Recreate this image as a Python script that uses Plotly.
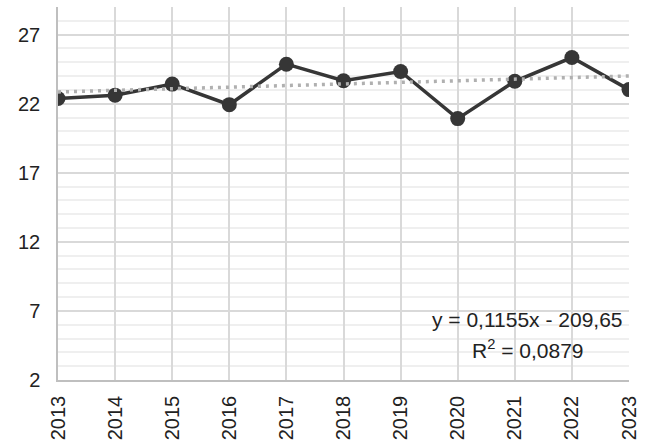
import plotly.graph_objects as go

# Annual values
years = [2013, 2014, 2015, 2016, 2017, 2018, 2019, 2020, 2021, 2022, 2023]
values = [22.38, 22.62, 23.42, 21.93, 24.86, 23.66, 24.33, 20.92, 23.62, 25.34, 23.02]

# Linear trend: y = slope * x + intercept
slope = 0.1155
intercept = -209.65
r_squared = 0.0879

y_ticks = [2, 7, 12, 17, 22, 27]

trend_x = [years[0], years[-1]]
trend_y = [slope * x + intercept for x in trend_x]


def fmt(v, nd):
    return f"{v:.{nd}f}".replace(".", ",")


eq_text = f"y = {fmt(slope, 4)}x - {fmt(-intercept, 2)}"
r2_text = f"R<sup>2</sup> = {fmt(r_squared, 4)}"

fig = go.Figure()

fig.add_trace(go.Scatter(
    x=years, y=values, mode="lines+markers",
    line=dict(color="#363636", width=3.5),
    marker=dict(color="#363636", size=15),
    showlegend=False,
))

fig.add_trace(go.Scatter(
    x=trend_x, y=trend_y, mode="lines",
    line=dict(color="#b0b0b0", width=3.5, dash="3px,5px"),
    showlegend=False,
))

fig.add_annotation(
    x=0.823, y=0.161, xref="paper", yref="paper",
    text=eq_text, showarrow=False,
    font=dict(family="Liberation Sans", size=21, color="#222222"),
    xanchor="center", yanchor="middle",
)
fig.add_annotation(
    x=0.823, y=0.084, xref="paper", yref="paper",
    text=r2_text, showarrow=False,
    font=dict(family="Liberation Sans", size=21, color="#222222"),
    xanchor="center", yanchor="middle",
)

fig.update_layout(
    width=651, height=448,
    margin=dict(l=58, r=22, t=7, b=68),
    paper_bgcolor="white", plot_bgcolor="white",
    font=dict(family="Liberation Sans", size=20, color="#222222"),
)

fig.update_xaxes(
    range=[years[0], years[-1]],
    tickmode="array", tickvals=years, ticktext=[str(y) for y in years],
    tickangle=-90,
    showgrid=True, gridcolor="#d9d9d9", gridwidth=1.5,
    showline=True, linecolor="#bfbfbf", linewidth=1.5,
    zeroline=False, ticks="", ticklabelstandoff=6,
)

fig.update_yaxes(
    range=[2, 29],
    tickmode="array", tickvals=y_ticks,
    showgrid=True, gridcolor="#d9d9d9", gridwidth=1.5,
    minor=dict(dtick=1, tick0=2, showgrid=True, gridcolor="#efefef", gridwidth=1.5),
    showline=True, linecolor="#bfbfbf", linewidth=1.5,
    zeroline=False, ticks="", ticklabelstandoff=12,
)

fig.write_html("out.html")
